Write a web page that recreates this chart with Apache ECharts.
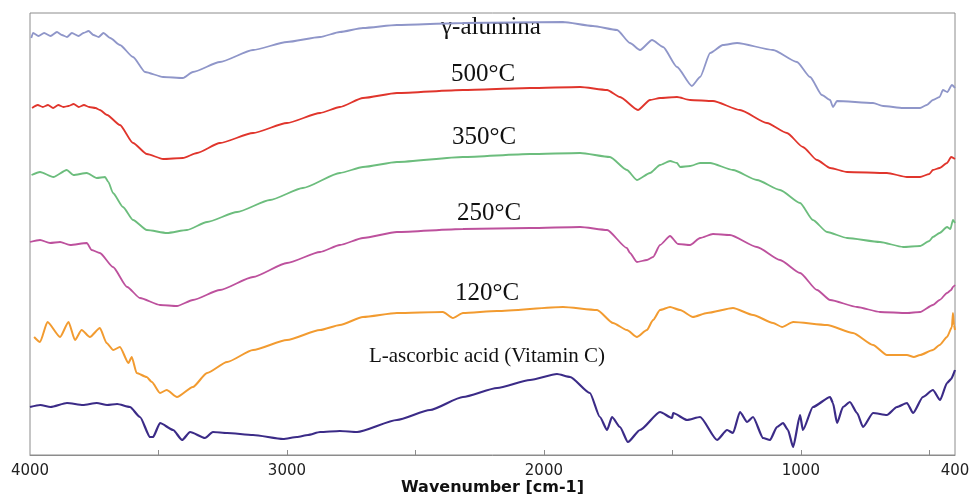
<!DOCTYPE html>
<html>
<head>
<meta charset="utf-8">
<script src="https://cdn.jsdelivr.net/npm/echarts@6/dist/echarts.min.js"></script>
<style>
  html, body { margin: 0; padding: 0; background: #fff; }
  #ftirChart { width: 971px; height: 495px; }
</style>
</head>
<body>
<div id="ftirChart"></div>
<script>
// wavenumber [cm-1], transmittance (stacked, a.u.)
var alumina = [[3995,417],[3988,422],[3967,419],[3945,422],[3920,419],[3895,423],[3876,420],[3856,418],[3837,422],[3811,419],[3792,422],[3772,424],[3753,420],[3733,418],[3714,422],[3688,417],[3650,410],[3599,398],[3552,383],[3482,378],[3405,377],[3366,383],[3261,393],[3132,405],[3000,413],[2871,418],[2794,423],[2704,427],[2572,430],[2315,432],[1926,433],[1809,429],[1715,425],[1665,412],[1626,405],[1579,415],[1536,408],[1482,388],[1424,369],[1392,378],[1353,402],[1303,410],[1248,412],[1108,405],[1015,393],[964,378],[918,360],[886,355],[875,348],[859,354],[719,352],[680,349],[602,347],[536,347],[510,350],[486,355],[460,358],[447,365],[430,363],[412,370],[400,367]];
var t500 = [[3992,347],[3970,350],[3950,348],[3930,350],[3910,347],[3890,350],[3870,348],[3850,349],[3830,351],[3810,348],[3790,350],[3770,348],[3745,347],[3728,345],[3700,340],[3650,330],[3599,312],[3545,301],[3482,296],[3405,297],[3350,302],[3261,312],[3132,322],[3000,332],[2871,342],[2794,348],[2704,357],[2572,362],[2315,365],[2054,367],[1859,368],[1754,365],[1704,358],[1634,345],[1587,355],[1548,357],[1482,358],[1431,355],[1342,354],[1237,345],[1132,332],[1054,322],[992,308],[937,295],[886,287],[820,283],[665,282],[587,278],[536,278],[500,281],[486,285],[460,287],[431,292],[415,298],[400,296]];
var t350 = [[3994,280],[3961,283],[3909,278],[3857,285],[3831,280],[3779,282],[3740,277],[3708,278],[3695,273],[3677,262],[3638,248],[3599,235],[3545,225],[3467,222],[3389,225],[3311,233],[3194,243],[3066,255],[2938,267],[2794,282],[2704,288],[2572,293],[2315,298],[2054,301],[1859,302],[1743,298],[1677,285],[1638,275],[1587,282],[1548,290],[1509,294],[1482,292],[1470,288],[1431,289],[1392,292],[1353,292],[1264,285],[1171,275],[1081,265],[1003,252],[953,235],[898,223],[820,217],[692,213],[602,208],[536,209],[500,214],[486,218],[460,222],[431,228],[418,226],[408,235],[400,232]];
var t250 = [[4000,213],[3961,215],[3922,212],[3883,213],[3844,210],[3779,212],[3760,205],[3728,202],[3677,188],[3622,168],[3572,157],[3494,150],[3428,149],[3366,155],[3261,165],[3132,178],[3000,192],[2871,203],[2794,210],[2704,217],[2572,223],[2315,226],[2054,227],[1859,228],[1754,225],[1677,207],[1665,202],[1638,193],[1599,195],[1575,198],[1548,210],[1509,219],[1478,211],[1431,210],[1392,217],[1342,221],[1276,220],[1171,208],[1081,195],[1003,182],[937,165],[886,155],[781,148],[692,143],[587,142],[536,143],[486,150],[460,155],[431,162],[415,165],[408,168],[400,170]];
var t120 = [[3984,118],[3961,113],[3932,133],[3883,118],[3850,133],[3825,115],[3799,125],[3767,118],[3728,127],[3702,112],[3676,105],[3650,108],[3617,92],[3604,98],[3585,82],[3546,78],[3526,73],[3494,62],[3468,65],[3428,58],[3366,68],[3311,82],[3233,93],[3132,105],[3000,115],[2871,125],[2794,130],[2704,138],[2572,142],[2393,143],[2354,137],[2315,142],[2182,144],[1926,148],[1793,145],[1731,132],[1677,125],[1638,118],[1599,125],[1575,135],[1548,145],[1509,148],[1470,145],[1420,138],[1365,142],[1264,147],[1186,140],[1108,132],[1073,128],[1030,133],[898,130],[797,122],[719,110],[665,100],[587,100],[560,98],[536,100],[486,105],[460,110],[431,118],[412,128],[408,142],[404,130],[400,125]];
var ascorbic = [[4000,48],[3960,50],[3920,48],[3856,52],[3794,50],[3740,52],[3700,50],[3661,51],[3611,48],[3572,38],[3533,18],[3521,18],[3494,32],[3443,25],[3408,15],[3377,23],[3319,17],[3288,23],[3233,22],[3132,20],[3015,16],[2961,18],[2918,20],[2871,23],[2794,24],[2727,23],[2572,35],[2443,45],[2315,58],[2182,67],[2054,75],[1949,81],[1898,78],[1821,62],[1782,38],[1754,25],[1735,38],[1704,28],[1673,13],[1626,25],[1548,43],[1501,37],[1497,42],[1443,35],[1392,38],[1326,15],[1287,25],[1264,22],[1237,43],[1209,33],[1186,38],[1147,17],[1120,15],[1093,28],[1069,32],[1050,25],[1030,8],[1003,40],[992,25],[953,48],[886,58],[875,52],[859,32],[836,48],[809,53],[781,42],[758,28],[719,42],[665,40],[626,48],[587,52],[563,42],[525,58],[486,65],[458,55],[431,72],[415,76],[400,85]];

var xLabels = [4000, 3000, 2000, 1000, 400];
var xTicks = [3500, 3000, 2500, 2000, 1500, 1000, 500];

function line(name, data, color, width) {
  return {
    name: name,
    type: 'line',
    data: data,
    showSymbol: false,
    smooth: 0.2,
    smoothMonotone: 'x',
    lineStyle: { color: color, width: width },
    itemStyle: { color: color },
    animation: false
  };
}

function label(text, x, y, size) {
  return {
    type: 'text',
    x: x,
    y: y,
    style: {
      text: text,
      fill: '#111',
      font: size + 'px "Liberation Serif", "DejaVu Serif", serif',
      align: 'center',
      verticalAlign: 'middle'
    }
  };
}

var chart = echarts.init(document.getElementById('ftirChart'));
chart.setOption({
  backgroundColor: '#fff',
  animation: false,
  grid: {
    left: 30, right: 16, top: 13, bottom: 40,
    outerBoundsMode: 'none',
    containLabel: false,
    show: true, borderColor: '#8c8c8c', borderWidth: 1
  },
  xAxis: {
    type: 'value',
    inverse: true,
    min: 400,
    max: 4000,
    name: 'Wavenumber [cm-1]',
    nameLocation: 'middle',
    nameGap: 25,
    nameMoveOverlap: false,
    nameTextStyle: { fontFamily: 'DejaVu Sans', fontWeight: 'bold', fontSize: 16, color: '#111' },
    axisLine: { lineStyle: { color: '#8c8c8c', width: 1 } },
    axisTick: { inside: true, length: 5, customValues: xTicks, lineStyle: { color: '#8c8c8c' } },
    axisLabel: {
      customValues: xLabels, margin: 9,
      fontFamily: 'DejaVu Sans', fontSize: 15, color: '#222',
      showMinLabel: true, showMaxLabel: true,
      formatter: function (v) { return String(v); }
    },
    splitLine: { show: false }
  },
  yAxis: {
    type: 'value',
    min: 0,
    max: 442,
    axisLine: { show: false },
    axisTick: { show: false },
    axisLabel: { show: false },
    splitLine: { show: false }
  },
  series: [
    line('γ-alumina', alumina, '#8f96c9', 1.8),
    line('500°C', t500, '#e0352c', 1.8),
    line('350°C', t350, '#6cbd7d', 1.8),
    line('250°C', t250, '#bd519d', 1.8),
    line('120°C', t120, '#f29b30', 2),
    line('L-ascorbic acid (Vitamin C)', ascorbic, '#3b2b87', 2.2)
  ],
  graphic: [
    label('γ-alumina', 491, 27, 25),
    label('500°C', 483, 74, 25),
    label('350°C', 484, 137, 25),
    label('250°C', 489, 213, 25),
    label('120°C', 487, 293, 25),
    label('L-ascorbic acid (Vitamin C)', 487, 356, 21)
  ]
});
window.onresize = function () {
  chart.resize();
};
</script>
</body>
</html>
